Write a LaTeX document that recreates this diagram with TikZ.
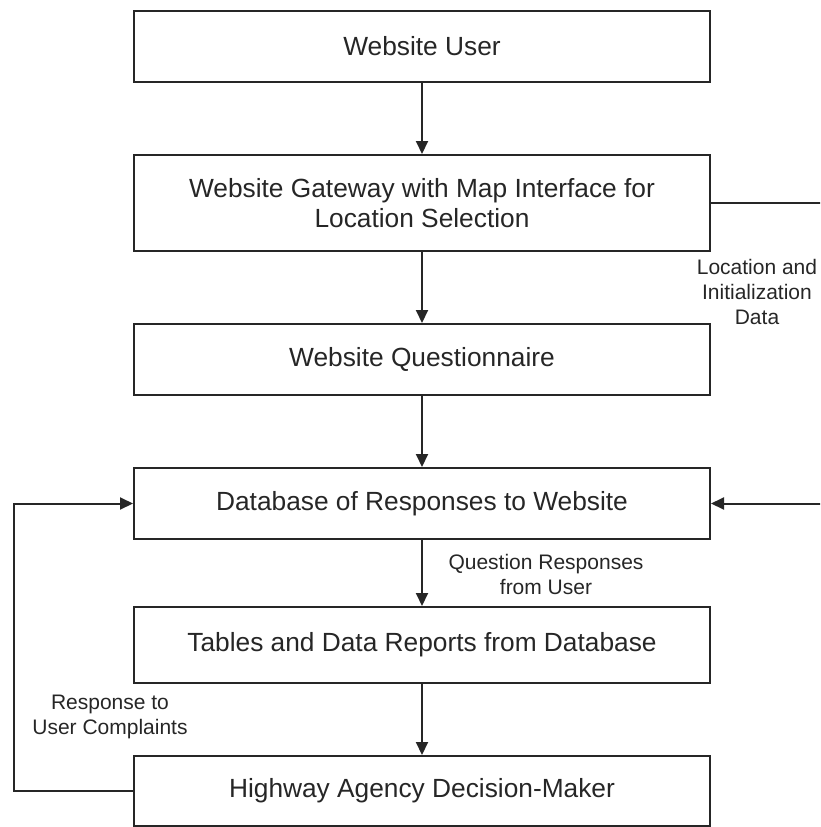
\documentclass[tikz,border=0pt]{standalone}
\usepackage{fontspec}
\setmainfont{Liberation Sans}
\usetikzlibrary{arrows.meta}
\begin{document}
\begin{tikzpicture}[x=1pt,y=-1pt,
  box/.style={draw=black!85, line width=2pt, minimum width=576pt, inner sep=0pt,
    align=center, font=\fontsize{26.3}{30}\selectfont, text=black!85},
  lbl/.style={align=center, inner sep=0pt, font=\fontsize{21}{25}\selectfont, text=black!85},
  conn/.style={draw=black!85, line width=2pt},
  arr/.style={conn, -{Triangle[length=13pt,width=12pt]}}]
\useasboundingbox (0,0) rectangle (820,827);
\clip (0,0) rectangle (820,827);
\node[box, minimum height=71pt] (user) at (422,46.5) {Website User};
\node[box, minimum height=96pt] (gate) at (422,203) {Website Gateway with Map Interface for\\Location Selection};
\node[box, minimum height=71pt] (quest) at (422,359.5) {Website Questionnaire};
\node[box, minimum height=71pt] (db) at (422,503.5) {Database of Responses to Website};
\node[box, minimum height=76pt] (tab) at (422,645) {Tables and Data Reports from Database};
\node[box, minimum height=70pt] (hw) at (422,791) {Highway Agency Decision-Maker};
\coordinate (r1) at (832,203);
\coordinate (r2) at (832,503.5);
\coordinate (l1) at (14,791);
\coordinate (l2) at (14,503.5);
\draw[arr] (user) -- (gate);
\draw[arr] (gate) -- (quest);
\draw[arr] (quest) -- (db);
\draw[arr] (db) -- (tab);
\draw[arr] (tab) -- (hw);
\draw[arr] (gate.east) -- (r1) -- (r2) -- (db.east);
\draw[arr] (hw.west) -- (l1) -- (l2) -- (db.west);
\node[lbl] (lloc) at (757,292) {Location and\\Initialization\\Data};
\node[lbl] (lq) at (546,574.5) {Question Responses\\from User};
\node[lbl] (lr) at (110,716.5) {Response to\\User Complaints};
\end{tikzpicture}
\end{document}
